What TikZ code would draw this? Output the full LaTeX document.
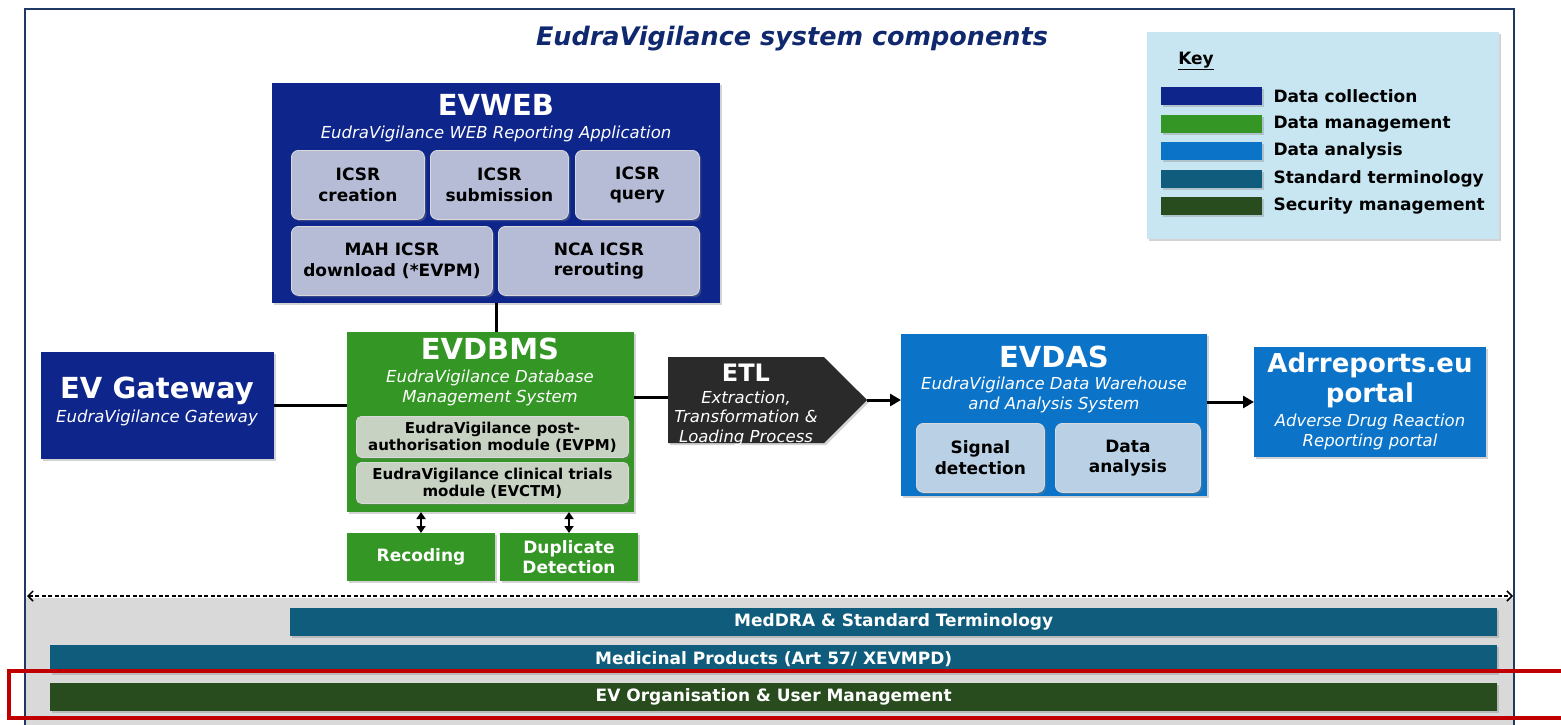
\documentclass[tikz,border=0pt]{standalone}
\usepackage{fontspec}
\setmainfont{DejaVu Sans}
\usepackage{tikz}
\usetikzlibrary{arrows.meta,positioning,shadows,shapes.symbols}
\definecolor{evnavy}{RGB}{14,38,140}
\definecolor{evgreen}{RGB}{52,150,36}
\definecolor{evsky}{RGB}{12,116,200}
\definecolor{evteal}{RGB}{16,92,124}
\definecolor{evforest}{RGB}{40,76,30}
\definecolor{etlgray}{RGB}{42,42,42}
\definecolor{innernavy}{RGB}{182,188,214}
\definecolor{innergreen}{RGB}{200,210,195}
\definecolor{innersky}{RGB}{186,208,228}
\definecolor{keybg}{RGB}{200,230,242}
\definecolor{bandgray}{RGB}{217,217,217}
\definecolor{titlenavy}{RGB}{16,40,110}
\definecolor{framenavy}{RGB}{31,56,100}
\definecolor{annotred}{RGB}{192,0,0}
\newcommand{\evhead}{\fontsize{29}{30}\selectfont\bfseries}
\newcommand{\evsub}{\fontsize{16.5}{19.5}\selectfont\itshape}
\newcommand{\evbox}{\fontsize{17}{20.5}\selectfont\bfseries}
\newcommand{\evmod}{\fontsize{15}{17}\selectfont\bfseries}
\tikzset{
  shade/.style={drop shadow={opacity=0.35,shadow xshift=2pt,shadow yshift=-2pt}},
  sysbox/.style={rectangle,anchor=north west,inner sep=0pt,outer sep=0pt,shade}, % big coloured panels
  innerbox/.style={rectangle,rounded corners=7pt,anchor=north west,inner sep=0pt,draw=white!70!gray,line width=0.8pt,align=center,font=\evbox,text=black,shade},
  headtxt/.style={inner sep=0pt,text=white,font=\evhead,align=center},
  subtxt/.style={inner sep=0pt,text=white,font=\evsub,align=center},
  bar/.style={rectangle,anchor=north west,inner sep=0pt,minimum height=28pt,text=white,font=\evbox,shade},
  link/.style={draw,line width=3pt},
  flow/.style={draw,line width=3pt,-{Triangle[length=11pt,width=12pt]}},
  twoway/.style={draw,line width=2.6pt,{Triangle[length=7pt,width=9pt]}-{Triangle[length=7pt,width=9pt]}}
}

\begin{document}
\begin{tikzpicture}[x=1pt,y=-1pt,
    swatch/.style={rectangle,anchor=north west,minimum width=101pt,minimum height=18pt,inner sep=0pt,shade},
    keylabel/.style={inner sep=0pt,anchor=west,font=\evbox,text=black}
  ]
  \useasboundingbox (0,0) rectangle (1561,724);

  % frame and bottom band
  \fill[bandgray] (26,598) rectangle (1513,740);
  \draw[framenavy,line width=1.2pt] (25,740) -- (25,9) -- (1514,9) -- (1514,740);

  \node[inner sep=0pt,font=\fontsize{25.5}{28}\selectfont\bfseries\itshape,text=titlenavy] (title) at (792,39) {EudraVigilance system components};

  % Key
  \node[sysbox,fill=keybg,minimum width=352pt,minimum height=207pt,drop shadow={opacity=0}] (key) at (1147,32) {};
  \node[inner sep=0pt,font=\evbox] (keyhead) at (1196,61) {\underline{Key}};
  \foreach \col/\lab [count=\i] in {evnavy/Data collection,evgreen/Data management,evsky/Data analysis,evteal/Standard terminology,evforest/Security management}{
    \node[swatch,fill=\col] (sw\i) at (1161,59.5+27.5*\i) {};
    \node[keylabel,right=11pt of sw\i] (kl\i) {\lab};
  }

  % EVWEB
  \node[sysbox,fill=evnavy,minimum width=448pt,minimum height=220pt] (evweb) at (272,83) {};
  \node[headtxt] (evwebhead) at (496,105) {EVWEB};
  \node[subtxt] (evwebsub) at (496,134) {EudraVigilance WEB Reporting Application};
  \node[innerbox,fill=innernavy,minimum width=133pt,minimum height=69pt] (creation) at (291,150) {ICSR\\creation};
  \node[innerbox,fill=innernavy,minimum width=138pt,minimum height=69pt] (submission) at (430,150) {ICSR\\submission};
  \node[innerbox,fill=innernavy,minimum width=124pt,minimum height=69pt] (query) at (575,150) {ICSR\\query};
  \node[innerbox,fill=innernavy,minimum width=201pt,minimum height=69pt] (mahdl) at (291,226) {MAH ICSR\\download (*EVPM)};
  \node[innerbox,fill=innernavy,minimum width=201pt,minimum height=69pt] (ncarr) at (498,226) {NCA ICSR\\rerouting};

  % EV Gateway
  \node[sysbox,fill=evnavy,minimum width=233pt,minimum height=107pt] (gateway) at (41,352) {};
  \node[headtxt] (gatewayhead) at (157,391) {EV Gateway};
  \node[subtxt] (gatewaysub) at (157,418) {EudraVigilance Gateway};

  % EVDBMS
  \node[sysbox,fill=evgreen,minimum width=287pt,minimum height=180pt] (evdbms) at (347,332) {};
  \node[headtxt] (evdbmshead) at (490,349) {EVDBMS};
  \node[subtxt] (evdbmssub) at (490,388) {EudraVigilance Database\\Management System};
  \node[innerbox,fill=innergreen,font=\evmod,rounded corners=5pt,minimum width=272pt,minimum height=41pt] (evpm) at (356,416) {EudraVigilance post-\\authorisation module (EVPM)};
  \node[innerbox,fill=innergreen,font=\evmod,rounded corners=5pt,minimum width=272pt,minimum height=41pt] (evctm) at (356,462) {EudraVigilance clinical trials\\module (EVCTM)};
  \node[sysbox,fill=evgreen,minimum width=148pt,minimum height=48pt,text=white,font=\evbox,align=center] (recoding) at (347,533) {Recoding};
  \node[sysbox,fill=evgreen,minimum width=138pt,minimum height=48pt,text=white,font=\evbox,align=center] (duplicate) at (500,533) {Duplicate\\Detection};

  % ETL
  \node[signal,signal to=east,signal pointer angle=90,fill=etlgray,minimum width=199pt,minimum height=86pt,inner sep=0pt,outer sep=0pt,anchor=west,shade] (etl) at (668,400) {};
  \node[headtxt,font=\fontsize{24}{26}\selectfont\bfseries] (etlhead) at (746,373) {ETL};
  \node[subtxt] (etlsub) at (746,418) {Extraction,\\Transformation \&\\Loading Process};

  % EVDAS
  \node[sysbox,fill=evsky,minimum width=306pt,minimum height=162pt] (evdas) at (901,334) {};
  \node[headtxt] (evdashead) at (1054,357) {EVDAS};
  \node[subtxt] (evdassub) at (1054,395) {EudraVigilance Data Warehouse\\and Analysis System};
  \node[innerbox,fill=innersky,minimum width=128pt,minimum height=69pt] (signaldet) at (916,423) {Signal\\detection};
  \node[innerbox,fill=innersky,minimum width=145pt,minimum height=69pt] (dataanal) at (1055,423) {Data\\analysis};

  % Adrreports
  \node[sysbox,fill=evsky,minimum width=232pt,minimum height=110pt] (adr) at (1254,347) {};
  \node[headtxt,font=\fontsize{26}{30}\selectfont\bfseries] (adrhead) at (1370,380) {Adrreports.eu\\portal};
  \node[subtxt] (adrsub) at (1370,432) {Adverse Drug Reaction\\Reporting portal};

  % Connectors
  \draw[link] (evweb.south) -- (evweb.south |- evdbms.north);
  \draw[link] (gateway.east) -- (gateway.east -| evdbms.west);
  \draw[link] (evdbms.east |- 0,397) -- (etl.west |- 0,397);
  \draw[flow] (etl.east) -- (etl.east -| evdas.west);
  \draw[flow] (adr.west -| evdas.east) -- (adr.west);
  \draw[twoway] (recoding.north |- evdbms.south) -- (recoding.north);
  \draw[twoway] (duplicate.north |- evdbms.south) -- (duplicate.north);

  % Shared services
  \coordinate (dashleft) at (27,596);
  \coordinate (dashright) at (1513,596);
  \draw[line width=1.5pt,dash pattern=on 4pt off 2.5pt,{Straight Barb[length=5pt,width=10pt]}-{Straight Barb[length=5pt,width=10pt]}] (dashleft) -- (dashright);
  \node[bar,fill=evteal,minimum width=1207pt] (meddra) at (290,608) {MedDRA \& Standard Terminology};
  \node[bar,fill=evteal,minimum width=1447pt] (medprod) at (50,645) {Medicinal Products (Art 57/ XEVMPD)};
  \node[bar,fill=evforest,minimum width=1447pt] (evorg) at (50,683) {EV Organisation \& User Management};

  \draw[annotred,line width=4pt] (9,671) rectangle (1580,718);
\end{tikzpicture}
\end{document}
